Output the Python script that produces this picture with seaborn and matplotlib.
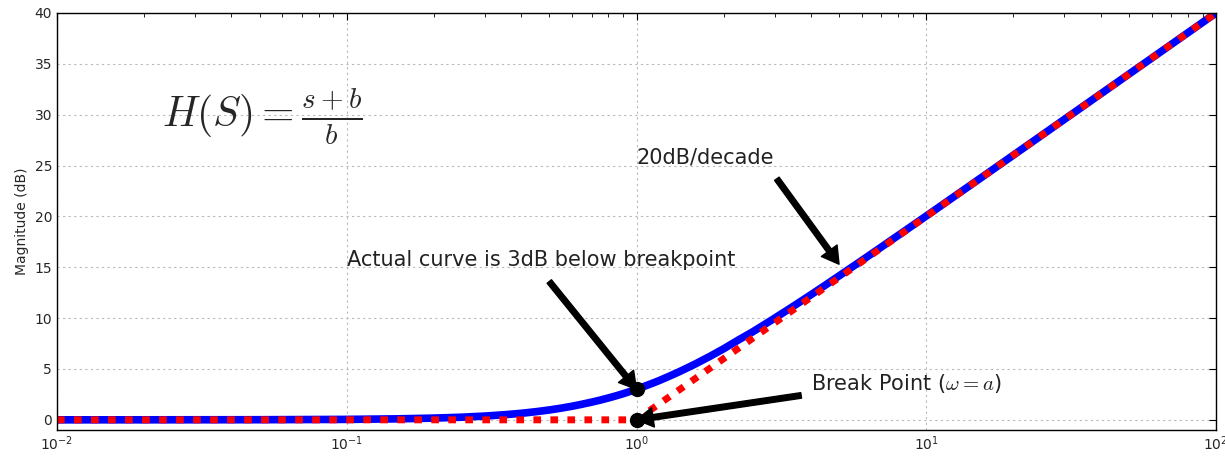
import matplotlib
matplotlib.use("Agg")
import matplotlib.pyplot as plt
import seaborn as sns
import pandas as pd

# Actual magnitude curve
freq_actual = [0.01, 0.02, 0.05, 0.1, 0.15, 0.2, 0.25, 0.3, 0.35, 0.4, 0.45, 0.5, 0.55, 0.6, 0.65,
               0.7, 0.75, 0.8, 0.85, 0.9, 0.95, 1.0, 1.05, 1.1, 1.15, 1.2, 1.3, 1.4, 1.5, 1.6,
               1.8, 2.0, 2.25, 2.5, 2.75, 3.0, 3.5, 4.0, 4.5, 5.0, 6.0, 7.0, 8.5, 10.0,
               15.0, 20.0, 30.0, 50.0, 70.0, 100.0]
mag_actual = [0.0, 0.002, 0.011, 0.043, 0.097, 0.17, 0.26, 0.37, 0.50, 0.64, 0.80, 0.97, 1.15, 1.34, 1.54,
              1.74, 1.94, 2.15, 2.36, 2.57, 2.79, 3.01, 3.23, 3.45, 3.66, 3.87, 4.30, 4.71, 5.12, 5.51,
              6.27, 6.99, 7.86, 8.60, 9.33, 10.0, 11.22, 12.30, 13.27, 14.15, 15.68, 16.99, 18.65, 20.04,
              23.54, 26.03, 29.55, 33.98, 36.9, 40.0]
# Asymptotic (straight-line) approximation
freq_asym = [0.01, 1.0, 100.0]
mag_asym = [0.0, 0.0, 40.0]
# Highlighted points
pt_freq = [1.0, 1.0]
pt_mag = [3.0, 0.0]

df_actual = pd.DataFrame({"w": freq_actual, "mag": mag_actual})
df_asym = pd.DataFrame({"w": freq_asym, "mag": mag_asym})

sns.set_style("white")
plt.rcParams["font.family"] = ["DejaVu Sans"]
plt.rcParams["mathtext.fontset"] = "cm"

fig = plt.figure(figsize=(12.25, 4.61), dpi=100)
ax = fig.add_axes([57/1225, 31/461, (1216-57)/1225, (430-13)/461])

sns.lineplot(data=df_actual, x="w", y="mag", ax=ax, color="blue", linewidth=5.5,
             estimator=None, sort=False)
sns.lineplot(data=df_asym, x="w", y="mag", ax=ax, color="red", linewidth=5,
             estimator=None, sort=False, linestyle=(0, (1.1, 1.35)))
ax.plot(pt_freq, pt_mag, "o", color="black", markersize=10, zorder=5)

ax.set_xscale("log")
ax.set_xlim(0.01, 100)
ax.set_ylim(-1, 40)
ax.set_yticks(range(0, 41, 5))
ax.set_xlabel("")
ax.set_ylabel("Magnitude (dB)", fontsize=10)

for s in ax.spines.values():
    s.set_visible(True)
    s.set_color("black")
    s.set_linewidth(1.0)
ax.tick_params(which="both", direction="in", top=True, right=True, labelsize=10, color="black")
ax.tick_params(which="major", length=5)
ax.tick_params(which="minor", length=3)
ax.grid(True, which="major", color="#b8b8b8", linestyle=(0, (2, 3)), linewidth=0.8)

arrow = dict(facecolor="black", edgecolor="black", width=4, headwidth=14, headlength=12, shrink=0)
ax.text(0.1, 15.1, "Actual curve is 3dB below breakpoint", fontsize=15, color="#222222")
ax.annotate("", xy=(1.0, 3.0), xytext=(0.5, 13.6), arrowprops=arrow)
ax.text(1.0, 25.2, "20dB/decade", fontsize=15, color="#222222")
ax.annotate("", xy=(5.0, 15.3), xytext=(3.05, 23.7), arrowprops=arrow)
ax.text(4.0, 2.95, r"Break Point ($\omega = a$)", fontsize=15, color="#222222")
ax.annotate("", xy=(1.0, 0.0), xytext=(3.7, 2.4), arrowprops=arrow)
ax.text(0.023, 29.9, r"$H(S) = \frac{s+b}{b}$", fontsize=30, va="center")

fig.savefig("out.png", dpi=100)
